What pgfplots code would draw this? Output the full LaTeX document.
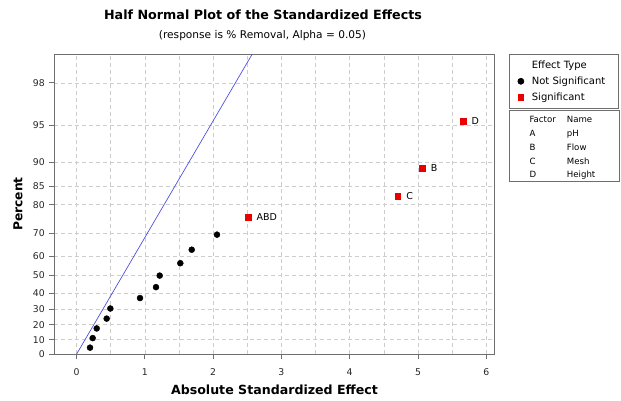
\documentclass[border=0pt]{standalone}
\usepackage{fontspec}
\setmainfont{DejaVu Sans}
\usepackage{pgfplots}
\pgfplotsset{compat=1.18}
\definecolor{refline}{RGB}{80,80,225}
\definecolor{sigred}{RGB}{235,0,0}
\definecolor{framegray}{RGB}{110,110,110}
\definecolor{gridgray}{RGB}{205,205,205}
\begin{document}
\begin{tikzpicture}
\begin{axis}[
  at={(54.3pt,46.7pt)}, anchor=south west,
  width=440pt, height=300pt, scale only axis,
  xmin=-0.325, xmax=6.117, ymin=0, ymax=2.571,
  xtick={0,1,2,3,4,5,6},
  minor xtick={0.5,1.5,2.5,3.5,4.5,5.5},
  ytick={0,0.1257,0.2533,0.3853,0.5244,0.6745,0.8416,1.0364,1.2816,1.4395,1.6449,1.96,2.3263},
  yticklabels={0,10,20,30,40,50,60,70,80,85,90,95,98},
  grid=both,
  major grid style={gridgray, dash pattern=on 4pt off 3pt, line width=0.6pt},
  minor grid style={gridgray, dash pattern=on 4pt off 3pt, line width=0.6pt},
  tick align=outside, tick pos=left,
  major tick length=5pt, minor tick length=0pt,
  axis line style={framegray, line width=0.8pt},
  major tick style={framegray, line width=0.7pt},
  /pgf/number format/assume math mode=true,
  ticklabel style={font=\fontsize{9.3}{11}\selectfont, text=black!85},
  yticklabel style={xshift=-1pt},
  xticklabel style={yshift=-5.5pt},
  legend style={at={(1.0334,1.0)}, anchor=north west, draw=framegray, line width=0.7pt,
    font=\fontsize{10}{12}\selectfont, inner xsep=3pt, inner ysep=4pt,
    row sep=3pt, /tikz/every odd column/.append style={column sep=6pt}},
  legend cell align=left,
]
\addlegendimage{empty legend}
\addlegendentry{Effect Type}
\addplot[refline, line width=0.7pt, forget plot] coordinates {(0,0) (2.7,2.7)};
\addplot[only marks, mark=*, mark size=3pt, black] coordinates {
(0.198,0.0570) (0.237,0.1388) (0.296,0.2215) (0.442,0.3058) (0.495,0.3924)
(0.930,0.4819) (1.164,0.5755) (1.218,0.6745) (1.520,0.7806) (1.687,0.8963)
(2.057,1.0254)};
\addlegendentry{Not Significant\hspace*{8pt}\mbox{}}
\addplot[only marks, mark=square*, mark size=2.8pt, sigred,
  point meta=explicit symbolic, nodes near coords,
  every node near coord/.append style={anchor=west, xshift=5pt, text=black, font=\fontsize{9.5}{11}\selectfont}]
  table[meta=label] {
x y label
2.511 1.1744 ABD
4.703 1.3553 C
5.063 1.5965 B
5.659 2.0001 D
};
\addlegendentry{Significant}
\end{axis}
% titles and axis labels
\node[font=\bfseries\fontsize{12.7}{15}\selectfont] at (263pt,386pt) {Half Normal Plot of the Standardized Effects};
\node[font=\fontsize{10.6}{13}\selectfont] at (262.5pt,365pt) {(response is \% Removal, Alpha = 0.05)};
\node[font=\bfseries\fontsize{12.6}{14}\selectfont] at (274.5pt,11pt) {Absolute Standardized Effect};
\node[font=\bfseries\fontsize{12.3}{14}\selectfont, rotate=90] at (18pt,197pt) {Percent};
% factor table
\draw[framegray, line width=0.7pt] (509pt,291pt) rectangle (619.5pt,219.5pt);
\begin{scope}[every node/.style={anchor=base west, font=\fontsize{8.6}{10}\selectfont, inner sep=0pt}]
\node at (529.3pt,278pt) {Factor}; \node at (566.7pt,278pt) {Name};
\node at (529.3pt,264.5pt) {A}; \node at (566.7pt,264.5pt) {pH};
\node at (529.3pt,250.5pt) {B}; \node at (566.7pt,250.5pt) {Flow};
\node at (529.3pt,236.5pt) {C}; \node at (566.7pt,236.5pt) {Mesh};
\node at (529.3pt,223pt) {D}; \node at (566.7pt,223pt) {Height};
\end{scope}
\path (0pt,0pt) rectangle (621pt,401pt);
\end{tikzpicture}
\end{document}
